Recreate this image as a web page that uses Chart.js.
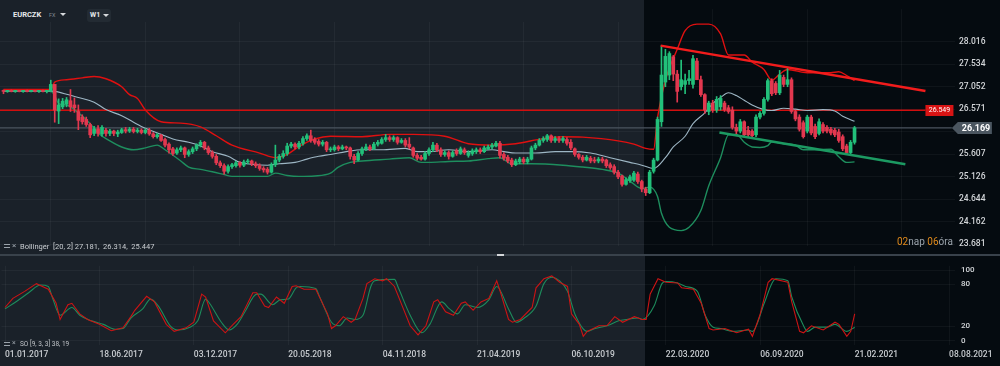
<!DOCTYPE html>
<html>
<head>
<meta charset="utf-8">
<title>EURCZK W1</title>
<script src="https://cdn.jsdelivr.net/npm/chart.js@4.4.1/dist/chart.umd.min.js"></script>
<style>
  html, body { margin: 0; padding: 0; background: #1a2129; }
  #wrap { position: relative; width: 1000px; height: 366px; overflow: hidden; font-family: Roboto, sans-serif; }
  canvas { position: absolute; left: 0; }
  #priceChart { top: 0; }
  #soChart { top: 255px; }
  .txt { position: absolute; white-space: nowrap; line-height: 1; }
  .tri { position: absolute; width: 0; height: 0; border-left: 3px solid transparent; border-right: 3px solid transparent; border-top: 3px solid #d6d9dc; }
</style>
</head>
<body>
<div id="wrap">
  <canvas id="priceChart" width="1000" height="255"></canvas>
  <canvas id="soChart" width="1000" height="111"></canvas>

  <!-- header -->
  <div style="position:absolute;left:0;top:0;width:644px;height:22px;background:#1a2129;"></div>
  <div class="txt" style="left:13px;top:11px;font-size:7.5px;font-weight:700;color:#e8eaec;">EURCZK</div>
  <div class="txt" style="left:49px;top:13px;font-size:5.5px;color:#7f878f;">FX</div>
  <div class="tri" style="left:60px;top:13px;"></div>
  <div style="position:absolute;left:87px;top:9px;width:24px;height:13px;background:#232b33;border-radius:3px;"></div>
  <div class="txt" style="left:90px;top:12px;font-size:7px;font-weight:700;color:#e8eaec;">W1</div>
  <div class="tri" style="left:103px;top:14px;"></div>

  <!-- indicator captions -->
  <div style="position:absolute;left:4px;top:244px;width:6px;height:2px;border-top:1px solid #9aa2aa;border-bottom:1px solid #9aa2aa;"></div>
  <div class="txt" style="left:12px;top:242px;font-size:8px;color:#9aa2aa;">×</div>
  <div class="txt" style="left:20px;top:243px;font-size:7.5px;color:#c9cdd1;">Bollinger&nbsp; [20, 2] 27.181,&nbsp; 26.314,&nbsp; 25.447</div>
  <div style="position:absolute;left:4px;top:342px;width:6px;height:2px;border-top:1px solid #9aa2aa;border-bottom:1px solid #9aa2aa;"></div>
  <div class="txt" style="left:12px;top:340px;font-size:7px;color:#9aa2aa;">×</div>
  <div class="txt" style="left:20px;top:341px;font-size:6.5px;color:#c0c4c8;">SO [9, 3, 3] 38, 19</div>
  <div class="txt" style="left:897px;top:237px;font-size:10px;color:#9aa3ab;"><span style="color:#e08a1c;">02</span>nap <span style="color:#e08a1c;">06</span>óra</div>

  <!-- panel divider -->
  <div style="position:absolute;left:0;top:254px;width:1000px;height:2px;background:#39424b;"></div>
  <div style="position:absolute;left:497px;top:254px;width:7px;height:2px;background:#d4d7da;"></div>
</div>

<script>
// 1. data (one candle per week, week 0 = 01.01.2017)
const tickWeeks = [0, 24, 48, 72, 96, 120, 144, 168, 192, 216, 240];
const tickLabels = ['01.01.2017', '18.06.2017', '03.12.2017', '20.05.2018', '04.11.2018', '21.04.2019',
                    '06.10.2019', '22.03.2020', '06.09.2020', '21.02.2021', '08.08.2021'];
const priceTicks = [28.016, 27.534, 27.052, 26.571, 26.089, 25.607, 25.126, 24.644, 24.162, 23.681];
const soTicks = [0, 20, 80, 100];

const openPrices = [
  26.97,26.95,26.96,26.95,26.96,26.95,26.96,26.95,26.96,26.95,26.96,26.95,
  26.96,27.10,26.53,26.62,26.68,26.75,26.66,26.52,26.40,26.35,26.24,26.05,
  26.15,26.04,26.12,26.05,26.10,26.04,26.07,26.13,26.10,26.14,26.09,26.12,
  26.07,26.12,26.04,25.98,26.01,25.92,25.82,25.72,25.63,25.70,25.74,25.60,
  25.66,25.72,25.80,25.86,25.74,25.64,25.56,25.42,25.36,25.24,25.34,25.36,
  25.42,25.37,25.44,25.46,25.40,25.36,25.30,25.28,25.22,25.38,25.48,25.56,
  25.62,25.78,25.82,25.76,25.84,25.94,26.00,25.92,25.88,25.82,25.86,25.70,
  25.70,25.76,25.72,25.76,25.74,25.56,25.48,25.62,25.72,25.76,25.72,25.82,
  25.84,25.92,25.96,25.92,25.96,25.86,25.90,25.82,25.74,25.58,25.54,25.50,
  25.62,25.70,25.80,25.70,25.60,25.64,25.56,25.68,25.62,25.70,25.58,25.62,
  25.66,25.70,25.66,25.72,25.76,25.78,25.84,25.60,25.54,25.48,25.38,25.44,
  25.50,25.44,25.50,25.74,25.80,25.90,25.92,26.00,25.90,25.94,25.90,25.92,
  25.86,25.72,25.60,25.54,25.48,25.52,25.48,25.46,25.50,25.48,25.38,25.34,
  25.22,25.14,24.96,25.04,25.05,25.18,25.02,24.86,24.78,25.24,25.48,26.30,
  27.15,27.30,27.69,27.32,27.05,27.10,27.18,27.10,27.60,27.20,26.88,26.52,
  26.70,26.55,26.62,26.70,26.60,26.55,26.18,26.10,26.30,26.12,26.10,26.02,
  26.40,26.48,26.78,27.18,27.12,26.92,27.25,27.10,27.20,26.52,26.40,26.28,
  26.10,26.40,26.20,26.05,26.24,26.18,26.14,26.12,26.08,25.98,25.78,25.64,
  25.86
];
const highPrices = [
  26.98,26.97,26.98,26.97,26.97,26.97,26.98,26.97,26.97,26.97,26.98,26.97,
  27.19,27.10,26.79,26.80,26.82,26.99,26.81,26.66,26.45,26.40,26.27,26.20,
  26.22,26.22,26.16,26.14,26.12,26.12,26.16,26.18,26.18,26.18,26.16,26.15,
  26.15,26.16,26.07,26.05,26.03,25.95,25.85,25.75,25.74,25.78,25.76,25.70,
  25.76,25.83,25.90,25.88,25.78,25.68,25.60,25.46,25.40,25.38,25.41,25.46,
  25.45,25.48,25.50,25.48,25.44,25.40,25.34,25.32,25.42,25.80,25.60,25.68,
  25.84,25.86,25.85,25.88,25.98,26.04,26.12,25.96,25.92,25.90,25.88,25.76,
  25.80,25.79,25.80,25.78,25.76,25.60,25.66,25.76,25.82,25.80,25.86,25.90,
  25.96,26.03,26.00,26.00,25.98,25.94,25.94,25.96,25.76,25.62,25.58,25.66,
  25.74,25.86,25.84,25.74,25.68,25.68,25.68,25.72,25.76,25.74,25.68,25.72,
  25.74,25.74,25.78,25.80,25.84,25.88,25.88,25.64,25.58,25.52,25.50,25.54,
  25.54,25.54,25.78,25.84,25.94,25.98,26.03,26.02,25.98,25.98,25.98,25.96,
  25.92,25.74,25.62,25.58,25.58,25.56,25.54,25.54,25.54,25.50,25.42,25.38,
  25.26,25.16,25.10,25.16,25.24,25.22,25.05,24.90,25.26,25.52,26.40,27.93,
  27.85,27.80,27.72,27.40,27.62,27.32,27.40,27.72,27.66,27.28,26.90,26.74,
  26.76,26.84,26.86,26.74,26.65,26.62,26.25,26.35,26.32,26.20,26.13,26.45,
  26.52,26.82,27.22,27.22,27.16,27.40,27.30,27.45,27.24,26.55,26.45,26.32,
  26.44,26.44,26.25,26.36,26.28,26.22,26.18,26.16,26.14,26.02,25.82,25.90,
  26.20
];
const lowPrices = [
  26.90,26.93,26.94,26.93,26.94,26.93,26.94,26.94,26.94,26.93,26.94,26.92,
  26.94,26.29,26.26,26.58,26.62,26.52,26.50,26.13,26.25,26.20,25.96,26.00,
  25.99,25.99,25.99,26.00,26.00,25.98,26.05,26.06,26.07,26.06,26.06,26.04,
  26.04,26.01,25.95,25.95,25.88,25.76,25.63,25.58,25.60,25.66,25.53,25.56,
  25.62,25.68,25.76,25.70,25.60,25.52,25.38,25.32,25.18,25.20,25.30,25.33,
  25.33,25.34,25.40,25.36,25.32,25.26,25.22,25.18,25.20,25.34,25.44,25.52,
  25.58,25.74,25.72,25.72,25.80,25.90,25.86,25.82,25.78,25.78,25.66,25.66,
  25.67,25.68,25.70,25.70,25.50,25.40,25.46,25.58,25.68,25.68,25.70,25.78,
  25.82,25.88,25.88,25.88,25.82,25.84,25.76,25.72,25.54,25.48,25.48,25.48,
  25.58,25.66,25.66,25.56,25.56,25.50,25.54,25.58,25.60,25.60,25.54,25.58,
  25.62,25.62,25.64,25.70,25.72,25.76,25.52,25.48,25.42,25.34,25.36,25.40,
  25.40,25.40,25.48,25.70,25.78,25.86,25.88,25.86,25.86,25.86,25.86,25.80,
  25.70,25.56,25.50,25.44,25.46,25.42,25.42,25.42,25.42,25.32,25.28,25.18,
  25.08,24.92,24.94,25.00,25.02,24.98,24.80,24.72,24.76,25.20,25.46,26.20,
  27.05,27.20,27.18,26.72,26.98,26.90,27.10,27.02,27.20,26.84,26.48,26.45,
  26.50,26.50,26.55,26.52,26.48,26.14,26.04,26.06,25.99,25.98,25.96,25.98,
  26.36,26.44,26.74,26.86,26.88,26.88,27.05,27.05,26.48,26.32,26.10,25.95,
  26.06,26.02,25.94,26.02,26.06,26.06,26.02,25.98,25.86,25.68,25.60,25.60,
  25.82
];
const closePrices = [
  26.95,26.96,26.95,26.96,26.95,26.96,26.95,26.96,26.95,26.96,26.95,26.96,
  27.10,26.55,26.66,26.74,26.77,26.62,26.60,26.33,26.30,26.24,26.02,26.15,
  26.05,26.18,26.05,26.10,26.05,26.08,26.13,26.10,26.14,26.09,26.12,26.07,
  26.12,26.04,25.98,26.02,25.90,25.80,25.70,25.62,25.70,25.74,25.60,25.66,
  25.72,25.80,25.86,25.74,25.64,25.56,25.42,25.36,25.24,25.34,25.38,25.42,
  25.37,25.44,25.46,25.40,25.36,25.30,25.27,25.22,25.38,25.48,25.56,25.62,
  25.78,25.82,25.76,25.84,25.94,26.00,25.90,25.86,25.82,25.86,25.70,25.72,
  25.76,25.72,25.76,25.74,25.56,25.48,25.62,25.72,25.76,25.72,25.82,25.86,
  25.92,25.96,25.92,25.96,25.86,25.90,25.80,25.76,25.58,25.52,25.50,25.62,
  25.70,25.80,25.70,25.60,25.64,25.56,25.64,25.62,25.72,25.64,25.64,25.68,
  25.70,25.66,25.74,25.76,25.80,25.84,25.58,25.52,25.46,25.38,25.46,25.50,
  25.44,25.50,25.74,25.80,25.90,25.94,26.00,25.90,25.94,25.90,25.94,25.84,
  25.74,25.60,25.54,25.48,25.54,25.46,25.46,25.50,25.46,25.36,25.32,25.22,
  25.12,24.96,25.06,25.12,25.20,25.02,24.86,24.78,25.22,25.48,26.35,27.30,
  27.70,27.76,27.32,26.95,27.20,27.18,27.22,27.65,27.20,26.88,26.55,26.70,
  26.55,26.78,26.80,26.56,26.52,26.18,26.10,26.30,26.02,26.02,26.00,26.40,
  26.48,26.78,27.18,26.90,26.92,27.30,27.10,27.20,26.52,26.36,26.14,25.98,
  26.40,26.06,25.98,26.30,26.10,26.10,26.06,26.02,25.90,25.72,25.64,25.86,
  26.169
];

// Bollinger bands (20, 2), read at the weeks where the curves bend
const bbUpperWeeks = [0,12,13,16,20,23,26,30,32,34,36,40,45,50,54,58,65,69,72,75,79,83,91,98,104,112,118,124,130,137,
                      142,147,156,160,163,165,166,168,171,173,176,179,182,184,188,190,193,195,197,199,204,210,212,214,216];
const bbUpper = [26.99,26.99,27.15,27.20,27.24,27.27,27.22,27.05,26.88,26.80,26.55,26.30,26.27,26.19,26.00,25.80,25.63,25.53,25.60,25.77,
                 25.93,25.99,25.98,26.03,26.03,25.99,25.83,25.80,25.83,25.94,25.98,25.97,25.89,25.82,25.73,25.71,26.39,27.19,27.85,28.25,
                 28.39,28.39,28.18,27.73,27.73,27.58,27.42,27.19,27.32,27.42,27.35,27.35,27.37,27.29,27.18];
const bbMiddleWeeks = [0,12,13,16,19,23,26,30,33,36,40,43,47,50,53,57,60,63,67,70,74,77,80,83,87,91,96,102,105,108,
                       113,118,124,127,130,135,140,144,149,154,159,162,165,168,170,173,175,178,180,182,184,186,188,190,193,195,
                       198,201,204,208,211,213,216];
const bbMiddle = [26.96,26.96,26.95,26.89,26.82,26.72,26.56,26.43,26.29,26.16,26.03,25.93,25.86,25.78,25.66,25.56,25.43,25.39,25.37,25.40,
                  25.43,25.50,25.56,25.60,25.66,25.70,25.70,25.73,25.66,25.66,25.70,25.66,25.70,25.66,25.63,25.63,25.66,25.66,25.63,25.53,
                  25.43,25.37,25.30,25.53,25.76,25.99,26.26,26.49,26.69,26.82,26.92,26.86,26.76,26.66,26.56,26.54,26.59,26.57,26.54,26.56,
                  26.53,26.42,26.31];
const bbLowerWeeks = [0,12,13,14,16,19,22,24,27,30,33,36,39,41,45,47,50,53,56,58,63,67,69,72,75,79,83,85,88,91,
                      98,103,106,108,113,118,123,126,129,134,142,147,152,156,159,162,164,166,167,169,172,174,177,179,182,184,
                      186,188,190,192,194,195,198,201,203,206,210,212,214,216];
const bbLower = [26.95,26.95,26.86,26.69,26.66,26.49,26.26,26.06,25.89,25.76,25.70,25.74,25.80,25.70,25.46,25.33,25.28,25.23,25.17,25.13,
                 25.13,25.13,25.20,25.15,25.13,25.14,25.20,25.33,25.43,25.46,25.50,25.53,25.43,25.43,25.45,25.46,25.51,25.53,25.40,25.40,
                 25.37,25.33,25.28,25.20,25.03,24.87,24.90,24.70,24.34,24.04,23.97,24.04,24.40,24.93,25.53,26.02,26.03,25.86,25.76,25.75,
                 25.79,25.87,25.83,25.80,25.70,25.70,25.71,25.55,25.43,25.44];

// hand-drawn levels and trend lines
const resistanceLevel = 26.549;
const resistanceWeeks = [-1, 234];
const lastPrice = 26.169;
const lastPriceWeeks = [-1, 240.7];
const upperTrendWeeks = [166.8, 234];
const upperTrendPrices = [27.93, 26.96];
const lowerTrendWeeks = [181.7, 228.9];
const lowerTrendPrices = [26.07, 25.39];
const shadeStartWeek = 162.6;

// stochastic oscillator (9, 3, 3)
const soKWeeks = [0,2,5,8,11,13,14,16,17,19,21,24,27,30,32,33,36,38,41,43,46,48,50,51,53,56,58,60,63,64,
                  66,67,69,71,73,74,76,79,82,83,84,86,88,89,91,92,94,96,97,99,101,103,105,107,109,110,112,114,116,117,
                  119,121,123,125,126,128,129,131,134,135,137,139,141,143,144,146,147,148,151,153,155,157,160,162,163,164,166,168,171,172,
                  175,177,179,180,183,186,189,190,192,194,195,199,200,202,203,205,208,211,212,214,215,216];
const soK = [47,60,70,81,73,53,30,51,53,38,30,23,14,18,34,43,63,55,23,13,18,26,66,62,28,11,23,34,68,68,
             49,47,62,53,77,78,73,73,38,17,21,34,26,30,60,81,88,85,88,77,49,21,8,21,55,58,41,36,53,55,
             43,55,60,85,68,30,26,30,47,75,88,92,83,77,38,23,6,13,21,21,34,26,34,30,30,66,88,83,82,75,
             73,53,17,15,17,11,16,6,38,83,88,83,55,13,11,21,15,26,23,6,13,38];
const soDWeeks = [0,3,6,9,11,12,14,17,19,22,25,28,30,32,35,37,39,42,44,47,49,51,52,55,57,59,61,64,65,68,
                  70,72,74,75,79,80,83,85,87,89,91,93,94,99,100,103,106,108,111,113,115,117,120,123,125,128,130,132,135,137,
                  139,141,143,145,148,150,153,156,158,161,162,165,167,168,171,173,176,178,180,182,185,189,190,193,195,196,199,200,203,204,
                  206,209,211,214,216];
const soD = [45,56,68,79,77,62,36,47,36,28,23,16,17,32,45,59,49,21,15,19,28,59,53,26,15,23,41,66,66,51,
             58,59,75,77,74,62,26,21,32,30,36,77,85,87,75,36,11,23,55,45,38,51,47,58,77,45,26,32,49,81,
             90,85,70,36,13,17,21,28,30,32,30,49,81,84,82,77,70,36,19,17,13,15,13,53,82,88,85,62,21,13,
             19,19,23,13,19];

// 2. colours and shared axis settings
const upColor = '#22c07a';
const downColor = '#e2384f';
const gridColor = 'rgba(255,255,255,0.045)';
const labelColor = '#d3d6d9';
const xMin = -0.888;
const xMax = 241.5;

Chart.defaults.font.family = 'Roboto';
Chart.defaults.color = labelColor;

function toPoints(xs, ys) {
    return xs.map((x, i) => ({ x: x, y: ys[i] }));
}

function lineSet(points, color, width, order, smooth) {
    return {
        type: 'line', data: points, borderColor: color, borderWidth: width,
        pointRadius: 0, fill: false, order: order,
        cubicInterpolationMode: smooth ? 'monotone' : 'default', tension: 0
    };
}

// background: lighter history part and dark recent part
const panelShade = {
    id: 'panelShade',
    beforeDraw(chart) {
        const ctx = chart.ctx;
        const split = Math.round(chart.scales.x.getPixelForValue(shadeStartWeek));
        ctx.save();
        ctx.fillStyle = '#1a2129';
        ctx.fillRect(0, 0, split, chart.height);
        ctx.fillStyle = '#050b10';
        ctx.fillRect(split, 0, chart.width - split, chart.height);
        ctx.restore();
    }
};

// price tags on the right
const priceTags = {
    id: 'priceTags',
    afterDraw(chart) {
        const ctx = chart.ctx;
        const y = chart.scales.y;
        const xs = chart.scales.x;
        ctx.save();
        // red level tag
        const ry = Math.round(y.getPixelForValue(resistanceLevel));
        const rx = xs.getPixelForValue(resistanceWeeks[1]);
        ctx.fillStyle = '#d81414';
        ctx.fillRect(rx, ry - 5, 28, 11);
        ctx.fillStyle = '#ffffff';
        ctx.font = '7px Roboto';
        ctx.textAlign = 'center';
        ctx.textBaseline = 'middle';
        ctx.fillText(resistanceLevel.toFixed(3), rx + 14, ry + 0.5);
        // current price tag
        const gy = Math.round(y.getPixelForValue(lastPrice));
        const gx = xs.getPixelForValue(lastPriceWeeks[1]);
        ctx.fillStyle = '#4b5660';
        ctx.beginPath();
        ctx.moveTo(gx, gy);
        ctx.lineTo(gx + 6, gy - 6);
        ctx.lineTo(gx + 40, gy - 6);
        ctx.lineTo(gx + 40, gy + 6);
        ctx.lineTo(gx + 6, gy + 6);
        ctx.closePath();
        ctx.fill();
        ctx.fillStyle = '#ffffff';
        ctx.font = 'bold 9px Roboto';
        ctx.textAlign = 'left';
        ctx.fillText(lastPrice.toFixed(3), gx + 10, gy + 0.5);
        ctx.restore();
    }
};

// 3. price panel: candles, Bollinger bands, levels
const weeks = closePrices.map((_, i) => i);
const candleColors = weeks.map(i => closePrices[i] >= openPrices[i] ? upColor : downColor);

new Chart(document.getElementById('priceChart'), {
    type: 'bar',
    data: {
        datasets: [
            lineSet(toPoints(upperTrendWeeks, upperTrendPrices), '#f21c1c', 2.5, 0, false),
            lineSet(toPoints(lowerTrendWeeks, lowerTrendPrices), '#1c9a62', 2.5, 0, false),
            {
                type: 'bar', order: 1, grouped: false, barThickness: 3, minBarLength: 1,
                data: weeks.map(i => ({ x: i, y: [openPrices[i], closePrices[i]] })),
                backgroundColor: candleColors, borderWidth: 0
            },
            {
                type: 'bar', order: 1.1, grouped: false, barThickness: 1,
                data: weeks.map(i => ({ x: i, y: [lowPrices[i], highPrices[i]] })),
                backgroundColor: candleColors, borderWidth: 0
            },
            lineSet(toPoints(bbUpperWeeks, bbUpper), '#e01010', 1.4, 2, true),
            lineSet(toPoints(bbMiddleWeeks, bbMiddle), '#9db6c4', 1.1, 2, true),
            lineSet(toPoints(bbLowerWeeks, bbLower), '#1e8e5e', 1.4, 2, true),
            lineSet(toPoints(resistanceWeeks, [resistanceLevel, resistanceLevel]), '#d10e0e', 1.5, 3, false),
            lineSet(toPoints(lastPriceWeeks, [lastPrice, lastPrice]), '#4b555f', 1.2, 3, false)
        ]
    },
    options: {
        responsive: false,
        animation: false,
        devicePixelRatio: 1,
        layout: { padding: 0 },
        plugins: { legend: { display: false }, tooltip: { enabled: false } },
        scales: {
            x: {
                type: 'linear', min: xMin, max: xMax, offset: false,
                grid: { color: gridColor, drawTicks: false },
                border: { display: false },
                ticks: { display: false },
                afterBuildTicks: s => { s.ticks = tickWeeks.map(v => ({ value: v })); },
                afterFit: s => { s.height = 0; }
            },
            y: {
                position: 'right', min: 23.642, max: 28.712,
                grid: { color: gridColor, drawTicks: false },
                border: { display: false },
                ticks: { padding: 4, color: labelColor, font: { size: 8.5, weight: '500' },
                         callback: v => v.toFixed(3) },
                afterBuildTicks: s => { s.ticks = priceTicks.map(v => ({ value: v })); },
                afterFit: s => { s.width = 45; }
            }
        }
    },
    plugins: [panelShade, priceTags]
});

// 4. stochastic oscillator panel with the date axis
new Chart(document.getElementById('soChart'), {
    type: 'line',
    data: {
        datasets: [
            lineSet(toPoints(soKWeeks, soK), '#cc1414', 1.1, 0, false),
            lineSet(toPoints(soDWeeks, soD), '#1d8c5c', 1.1, 1, true)
        ]
    },
    options: {
        responsive: false,
        animation: false,
        devicePixelRatio: 1,
        layout: { padding: { top: 2 } },
        plugins: { legend: { display: false }, tooltip: { enabled: false } },
        scales: {
            x: {
                type: 'linear', min: xMin, max: xMax, offset: false,
                grid: { color: gridColor, drawTicks: false },
                border: { display: false },
                ticks: { align: 'start', padding: 5, autoSkip: false, maxRotation: 0,
                         color: '#c8ccd0', font: { size: 8.5, weight: '500' },
                         callback: v => tickLabels[tickWeeks.indexOf(v)] },
                afterBuildTicks: s => { s.ticks = tickWeeks.map(v => ({ value: v })); },
                afterFit: s => { s.height = 21; }
            },
            y: {
                position: 'right', min: -6.4, max: 106.4,
                grid: { color: gridColor, drawTicks: false },
                border: { display: false },
                ticks: { padding: 6, color: labelColor, font: { size: 8, weight: '500' } },
                afterBuildTicks: s => { s.ticks = soTicks.map(v => ({ value: v })); },
                afterFit: s => { s.width = 45; }
            }
        }
    },
    plugins: [panelShade]
});
</script>
</body>
</html>
